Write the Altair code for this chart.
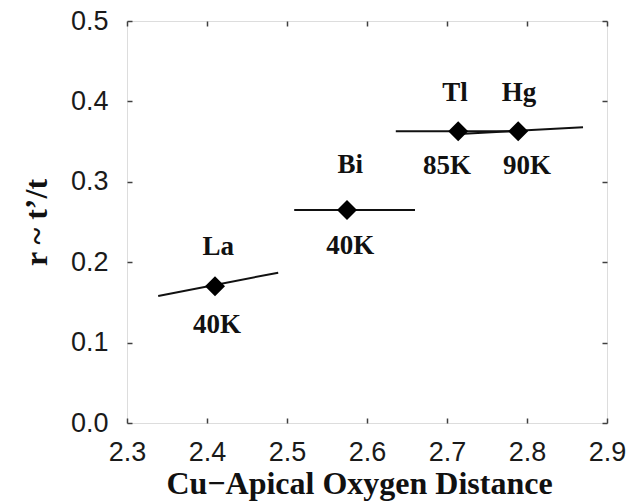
import altair as alt
import pandas as pd

# compounds, Tc labels and the r values at the Cu-apical oxygen distance
compounds = ["La", "Bi", "Tl", "Hg"]
tc_labels = ["40K", "40K", "85K", "90K"]
apical_dist = [2.41, 2.575, 2.714, 2.789]
ratio_r = [0.170, 0.265, 0.363, 0.363]

# short trend line through each point (start / end)
seg_x0 = [2.339, 2.509, 2.636, 2.710]
seg_x1 = [2.489, 2.660, 2.795, 2.870]
seg_y0 = [0.158, 0.265, 0.363, 0.359]
seg_y1 = [0.187, 0.265, 0.363, 0.368]

# where the annotations sit (data units)
name_x = [2.414, 2.579, 2.710, 2.790]
name_y = [0.219, 0.321, 0.410, 0.410]
tc_x = [2.4125, 2.579, 2.700, 2.800]
tc_y = [0.122, 0.220, 0.320, 0.320]

x_ticks = [2.3, 2.4, 2.5, 2.6, 2.7, 2.8, 2.9]
y_ticks = [0.0, 0.1, 0.2, 0.3, 0.4, 0.5]

pts = pd.DataFrame({"compound": compounds, "tc": tc_labels,
                    "d": apical_dist, "r": ratio_r})
segs = pd.DataFrame({"x0": seg_x0, "x1": seg_x1, "y0": seg_y0, "y1": seg_y1})
names = pd.DataFrame({"x": name_x, "y": name_y, "label": compounds})
tcs = pd.DataFrame({"x": tc_x, "y": tc_y, "label": tc_labels})

FRAME = "#404040"
SERIF = "Liberation Serif"
SANS = "Liberation Sans"

xscale = alt.Scale(domain=[2.3, 2.9], nice=False, zero=False)
yscale = alt.Scale(domain=[0, 0.5], nice=False)

# inward ticks: axis pulled inside the frame with a negative offset
tick_style = dict(domain=False, grid=False, offset=-5, tickSize=5, tickWidth=1.5,
                  tickColor=FRAME)

x_bottom = alt.Axis(values=x_ticks, format=".1f", labelFont=SANS, labelFontSize=27,
                    labelColor="#1a1a1a", labelPadding=16, labelFlush=False,
                    labelOverlap=False, title="Cu\u2212Apical Oxygen Distance",
                    titleFont=SERIF, titleFontSize=32, titleFontWeight="bold",
                    titleColor="#111", titleBaseline="alphabetic", titleY=75,
                    titleX=232, **tick_style)
y_left = alt.Axis(values=y_ticks, format=".1f", labelFont=SANS, labelFontSize=27,
                  labelColor="#1a1a1a", labelPadding=19, labelFlush=False,
                  labelOverlap=False, title="r ~ t\u2019/t", titleFont=SERIF,
                  titleFontSize=32, titleFontWeight="bold", titleColor="#111",
                  titleAngle=-90, titleBaseline="middle", titleX=-96, titleY=201,
                  **tick_style)
x_top = alt.Axis(values=x_ticks, orient="top", labels=False, title=None, **tick_style)
y_right = alt.Axis(values=y_ticks, orient="right", labels=False, title=None, **tick_style)

lines = alt.Chart(segs).mark_rule(color="#111", strokeWidth=2).encode(
    x=alt.X("x0:Q", scale=xscale, axis=x_bottom),
    x2="x1:Q",
    y=alt.Y("y0:Q", scale=yscale, axis=y_left),
    y2="y1:Q",
)

diamonds = alt.Chart(pts).mark_point(shape="diamond", filled=True, size=400,
                                     color="#000", opacity=1).encode(
    x=alt.X("d:Q", scale=xscale, axis=x_top),
    y=alt.Y("r:Q", scale=yscale, axis=y_right),
)

name_text = alt.Chart(names).mark_text(font=SERIF, fontSize=27, fontWeight="bold",
                                       color="#111", baseline="middle").encode(
    x=alt.X("x:Q", scale=xscale, axis=None),
    y=alt.Y("y:Q", scale=yscale, axis=None),
    text="label:N",
)

tc_text = alt.Chart(tcs).mark_text(font=SERIF, fontSize=27, fontWeight="bold",
                                   color="#111", baseline="middle").encode(
    x=alt.X("x:Q", scale=xscale, axis=None),
    y=alt.Y("y:Q", scale=yscale, axis=None),
    text="label:N",
)

chart = (
    alt.layer(lines, diamonds, name_text, tc_text)
    .resolve_axis(x="independent", y="independent")
    .properties(width=480, height=402,
                autosize=alt.AutoSizeParams(type="none"),
                padding={"left": 119, "top": 13, "right": 23, "bottom": 80})
    .configure_view(stroke=FRAME, strokeWidth=2.2)
    .configure(background="white")
)

chart.save("out.html", embed_options={"renderer": "svg", "actions": False})
